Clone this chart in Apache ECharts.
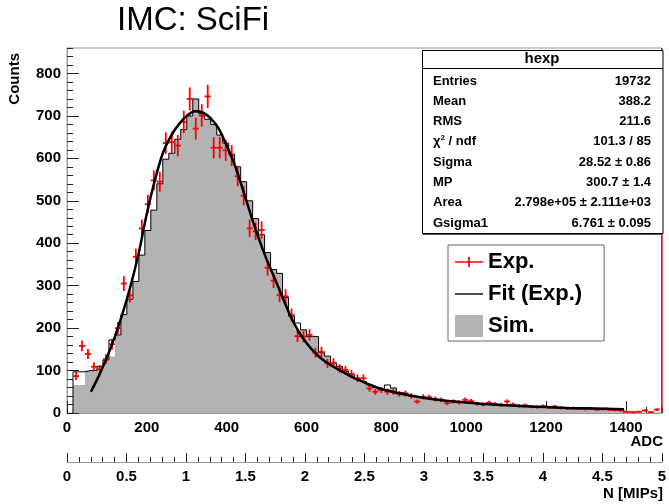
<!DOCTYPE html>
<html><head><meta charset="utf-8">
<script src="https://cdn.jsdelivr.net/npm/echarts@6/dist/echarts.min.js"></script>
<style>html,body{margin:0;padding:0;background:#fff}#c{width:669px;height:504px}</style>
</head><body><div id="c"></div>
<script>
// ---------- data ----------
const BIN_WIDTH = 15;            // ADC per bin
const EXP_FIRST_CENTER = 22.5;   // centre of first experimental bin
const SIM_FIRST_EDGE = 15;       // low edge of first simulated bin

const expValues = [87,158,139,109,103,127,162,200,305,277,368,435,492,548,545,636,638,630,686,740,
  670,701,746,625,625,619,607,558,512,435,428,431,342,312,278,275,231,181,180,184,
  142,144,117,118,105,101,92,82,82,58,50,54,50,50,45,46,40,27,38,37,
  33,31,23,27,25,31,28,22,20,24,21,19,27,20,17,18,15,14,16,13,
  15,12,11,12,10,9,10,8,9,8,7,6,3,2,3,6,2,8];

const simValues = [66,66,100,100,110,125,133,184,232,268,310,372,430,478,540,598,612,645,668,700,
  740,706,692,680,655,636,610,580,545,500,458,420,378,338,329,272,228,196,196,180,
  180,142,134,118,110,98,90,80,74,66,60,55,59,59,48,46,40,38,36,33,
  31,29,28,26,25,24,23,21,21,19,18,18,17,16,15,15,14,13,13,12,
  12,11,11,10,10,10,9,9,9,8,8,8];
// bins where the black outline stands above the grey fill: [low edge, value]
const simOutlineExtra = [[15,97],[30,97],[105,172],[570,212],[795,66]];

const fitADC = [60,80,100,120,140,160,180,200,220,240,260,280,300,320,340,360,380,400,420,440,
  460,480,500,520,540,560,580,600,620,640,660,680,700,720,750,780,820,860,900,950,
  1000,1050,1100,1150,1200,1250,1300,1350,1395];
const fitValues = [50,88,131,180,237,302,378,470,548,612,652,680,700,711,708,694,670,630,585,528,
  468,412,362,318,272,228,192,165,143,126,113,102,92,82,70,59,49,41,35,29,
  25,21,18,16,14,12,11,10,9];

const expRightEdge = [[1490,0],[1490,860]];

const statTitle = 'hexp';
const statLabels = ['Entries','Mean','RMS','{a|χ}{s|2}{a| / ndf}','Sigma','MP','Area','Gsigma1'];
const statValues = ['19732','388.2','211.6','101.3 / 85','28.52 ± 0.86','300.7 ± 1.4','2.798e+05 ± 2.111e+03','6.761 ± 0.095'];

const xTickLabelsADC = [0,200,400,600,800,1000,1200,1400];
const mipTickLabels = ['0','0.5','1','1.5','2','2.5','3','3.5','4','4.5','5'];

// ---------- build ----------
const FONT = '"Liberation Sans", Arial, Helvetica, sans-serif';
const expData = expValues.map((v, i) => [EXP_FIRST_CENTER + i * BIN_WIDTH, v]);

function stepPoints(vals, extra) {
  const map = {};
  (extra || []).forEach(e => { map[e[0]] = e[1]; });
  const pts = [[SIM_FIRST_EDGE, 0]];
  vals.forEach((v, i) => {
    const lo = SIM_FIRST_EDGE + i * BIN_WIDTH;
    pts.push([lo, map[lo] !== undefined ? map[lo] : v]);
  });
  const hi = SIM_FIRST_EDGE + vals.length * BIN_WIDTH;
  pts.push([hi, pts[pts.length - 1][1]]);
  pts.push([hi, 0]);
  return pts;
}
const simFill = stepPoints(simValues);
const simEdge = stepPoints(simValues, simOutlineExtra);
const fitData = fitADC.map((x, i) => [x, fitValues[i]]);

const EXP_ICON = 'path://M0,0L0,0M28,22L28,22M0,10.2H28V11.8H0Z M13.1,6H14.9V16H13.1Z';
const LINE_ICON = 'path://M0,0L0,0M28,22L28,22M0,10.3H28V11.7H0Z';

const lbl = {fontFamily: FONT, fontWeight: 'bold', fontSize: 15, color: '#000'};

function statText(text, x, y, align, size) {
  return {type: 'text', x: x, y: y, z: 101,
    style: {text: text, font: 'bold ' + (size || 13) + 'px ' + FONT, fill: '#000',
      align: align, textAlign: align, verticalAlign: 'middle', textVerticalAlign: 'middle',
      rich: {a: {fontFamily: FONT, fontWeight: 'bold', fontSize: 13, lineHeight: 16},
             s: {fontFamily: FONT, fontWeight: 'bold', fontSize: 8, lineHeight: 8, verticalAlign: 'top'}}}};
}
const graphics = [
  {type: 'rect', z: 100, shape: {x: 422.5, y: 50.5, width: 240.5, height: 183}, style: {fill: '#fff', stroke: '#000', lineWidth: 1}},
  {type: 'line', z: 100, shape: {x1: 423, y1: 234.5, x2: 663, y2: 234.5}, style: {stroke: '#555', lineWidth: 1}},
  {type: 'line', z: 100, shape: {x1: 422.5, y1: 68.5, x2: 663, y2: 68.5}, style: {stroke: '#000', lineWidth: 1}},
  statText(statTitle, 542, 59, 'center', 15)
];
statLabels.forEach((t, i) => {
  const y = 81 + i * 20.3;
  graphics.push(statText(t, 433, y, 'left'));
  graphics.push(statText(statValues[i], 651, y, 'right'));
});
graphics.push({type: 'text', x: 15, y: 53, rotation: Math.PI / 2,
  style: {text: 'Counts', font: 'bold 15px ' + FONT, fill: '#000', align: 'right', textAlign: 'right', verticalAlign: 'middle', textVerticalAlign: 'middle'}});
graphics.push({type: 'text', x: 663, y: 442,
  style: {text: 'ADC', font: 'bold 15px ' + FONT, fill: '#000', align: 'right', textAlign: 'right', verticalAlign: 'middle', textVerticalAlign: 'middle'}});
graphics.push({type: 'text', x: 663, y: 494,
  style: {text: 'N [MIPs]', font: 'bold 15px ' + FONT, fill: '#000', align: 'right', textAlign: 'right', verticalAlign: 'middle', textVerticalAlign: 'middle'}});

const tickColor = '#222';
const chart = echarts.init(document.getElementById('c'), null, {renderer: 'canvas'});
chart.setOption({
  animation: false,
  backgroundColor: '#fff',
  title: {text: 'IMC: SciFi', left: 117, top: 4, padding: 0,
    textStyle: {fontFamily: FONT, fontWeight: 'normal', fontSize: 33, color: '#000'}},
  grid: {left: 67, top: 48, width: 596, height: 365, show: true, borderColor: '#999', borderWidth: 1, backgroundColor: 'transparent'},
  legend: {
    orient: 'vertical', left: 448, top: 245, padding: [6, 22, 4, 7], itemGap: 10,
    itemWidth: 28, itemHeight: 22, backgroundColor: '#fff', borderColor: '#666', borderWidth: 1,
    selectedMode: false,
    textStyle: {fontFamily: FONT, fontWeight: 'bold', fontSize: 22, color: '#000'},
    data: [
      {name: 'Exp.', icon: EXP_ICON, itemStyle: {color: '#ff0000', borderWidth: 0}},
      {name: 'Fit (Exp.)', icon: LINE_ICON, itemStyle: {color: '#000', borderWidth: 0}},
      {name: 'Sim.', icon: 'rect', itemStyle: {color: '#b3b3b3', borderWidth: 0}}
    ]
  },
  xAxis: [
    {type: 'value', min: 0, max: 1490, interval: 200, position: 'bottom',
      axisLine: {show: true, lineStyle: {color: '#999', width: 1}},
      axisTick: {show: true, inside: true, length: 12, lineStyle: {color: tickColor}},
      axisLabel: Object.assign({margin: 7, showMaxLabel: false,
        formatter: v => (xTickLabelsADC.indexOf(v) >= 0 ? String(v) : '')}, lbl),
      splitLine: {show: false}},
    {type: 'value', min: 0, max: 1490, interval: 50, position: 'bottom',
      axisLine: {show: false}, axisTick: {show: true, inside: true, length: 6, lineStyle: {color: tickColor}},
      axisLabel: {show: false}, splitLine: {show: false}},
    {type: 'value', min: 0, max: 5, interval: 0.5, position: 'bottom', offset: 49,
      axisLine: {show: true, lineStyle: {color: '#999', width: 1}},
      axisTick: {show: true, inside: true, length: 9, lineStyle: {color: tickColor}},
      minorTick: {show: true, splitNumber: 5, length: 5, lineStyle: {color: tickColor}},
      axisLabel: Object.assign({margin: 7, formatter: v => mipTickLabels[Math.round(v * 2)] || ''}, lbl),
      splitLine: {show: false}}
  ],
  yAxis: [
    {type: 'value', min: 0, max: 860, interval: 100, position: 'left',
      axisLine: {show: true, lineStyle: {color: '#999', width: 1}},
      axisTick: {show: true, inside: true, length: 12, lineStyle: {color: tickColor}},
      axisLabel: Object.assign({margin: 6, showMaxLabel: false,
        formatter: v => (v % 100 === 0 ? String(v) : '')}, lbl),
      splitLine: {show: false}},
    {type: 'value', min: 0, max: 860, interval: 20, position: 'left',
      axisLine: {show: false}, axisTick: {show: true, inside: true, length: 6, lineStyle: {color: tickColor}},
      axisLabel: {show: false}, splitLine: {show: false}}
  ],
  series: [
    {name: 'Sim.', type: 'line', step: 'end', data: simFill, symbol: 'none', z: 1,
      lineStyle: {width: 0, color: '#b3b3b3'}, itemStyle: {color: '#b3b3b3'},
      areaStyle: {color: '#b3b3b3', opacity: 1}},
    {name: 'simOutline', type: 'line', step: 'end', data: simEdge, symbol: 'none', z: 2,
      lineStyle: {width: 1, color: '#000'}, itemStyle: {color: '#000'}},
    {name: 'Exp.', type: 'custom', data: expData, z: 3, encode: {x: 0, y: 1},
      itemStyle: {color: '#ff0000'},
      renderItem: function (params, api) {
        const x = api.value(0), y = api.value(1);
        const e = Math.sqrt(y);
        const c = api.coord([x, y]);
        const t = api.coord([x, y + e]);
        const b = api.coord([x, Math.max(0, y - e)]);
        const l = api.coord([x - BIN_WIDTH / 2, y]);
        const r = api.coord([x + BIN_WIDTH / 2, y]);
        const st = {stroke: '#ff0000', lineWidth: 1.8};
        return {type: 'group', children: [
          {type: 'line', shape: {x1: c[0], y1: t[1], x2: c[0], y2: b[1]}, style: st},
          {type: 'line', shape: {x1: l[0], y1: c[1], x2: r[0], y2: c[1]}, style: st}
        ]};
      }},
    {name: 'expEdge', type: 'line', data: expRightEdge, symbol: 'none', z: 3, clip: false,
      lineStyle: {width: 1.5, color: '#ff0000'}},
    {name: 'Fit (Exp.)', type: 'line', data: fitData, smooth: 0.3, symbol: 'none', z: 4,
      lineStyle: {width: 2.5, color: '#000'}, itemStyle: {color: '#000'}}
  ],
  graphic: {elements: graphics}
});
</script></body></html>
